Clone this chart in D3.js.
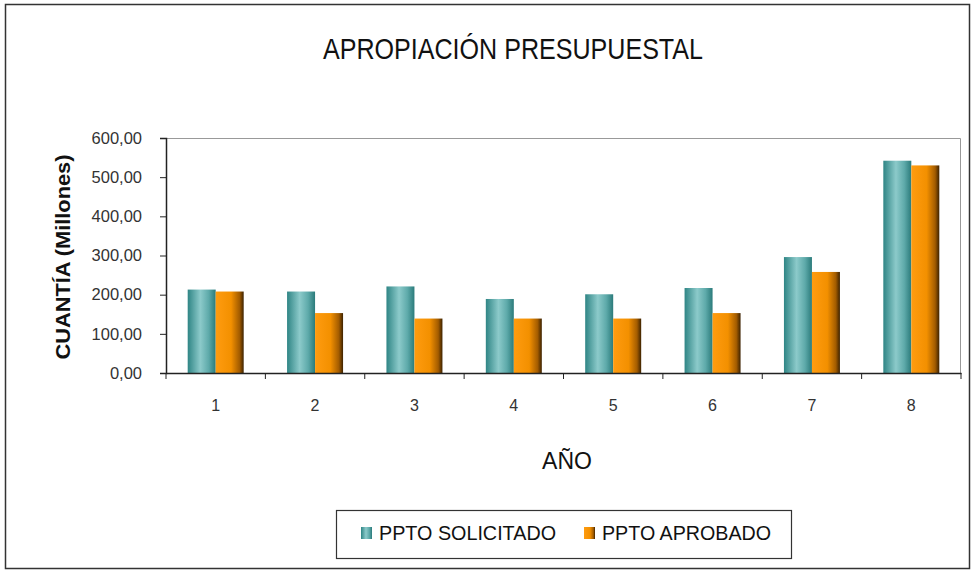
<!DOCTYPE html>
<html>
<head>
<meta charset="utf-8">
<script src="https://cdn.jsdelivr.net/npm/d3@7"></script>
<style>
  body { margin: 0; background: #fff; }
  svg text { font-family: "Liberation Sans", Arial, sans-serif; }
</style>
</head>
<body>
<svg id="chart" width="978" height="570"></svg>
<script>
const years = ['1', '2', '3', '4', '5', '6', '7', '8'];
const solicitado = [213, 208, 221, 189, 201, 217, 296, 542];
const aprobado = [208, 153, 139, 139, 139, 153, 258, 530];
const seriesNames = ['PPTO SOLICITADO', 'PPTO APROBADO'];
const yTicks = [0, 100, 200, 300, 400, 500, 600];

const svg = d3.select('#chart');
const margin = { top: 138, right: 17, bottom: 197, left: 166 };
const width = 978 - margin.left - margin.right;
const height = 570 - margin.top - margin.bottom;

// gradients for the cylinder-like bars
const defs = svg.append('defs');
function grad(id, stops) {
  const g = defs.append('linearGradient').attr('id', id)
    .attr('x1', '0%').attr('x2', '100%').attr('y1', '0%').attr('y2', '0%');
  stops.forEach(s => g.append('stop').attr('offset', s[0]).attr('stop-color', s[1]));
}
grad('gTeal', [['0%', '#2f8585'], ['45%', '#8ccaca'], ['75%', '#5eaaaa'], ['100%', '#2b7b7b']]);
grad('gOrange', [['0%', '#ff9c10'], ['55%', '#f39000'], ['85%', '#a35c00'], ['100%', '#3d2200']]);

// outer frame
svg.append('rect').attr('x', 5.5).attr('y', 4.5).attr('width', 964).attr('height', 564)
  .attr('fill', 'none').attr('stroke', '#333').attr('stroke-width', 1.5);

svg.append('text').attr('x', 513).attr('y', 59).attr('text-anchor', 'middle')
  .attr('font-size', 30).attr('textLength', 380).attr('lengthAdjust', 'spacingAndGlyphs')
  .attr('fill', '#111').text('APROPIACIÓN PRESUPUESTAL');

const g = svg.append('g').attr('transform', `translate(${margin.left},${margin.top})`);

const x0 = d3.scaleBand().domain(years).range([0, width]);
const x1 = d3.scaleBand().domain(seriesNames).range([0, x0.bandwidth()]).paddingOuter(0.775);
const y = d3.scaleLinear().domain([0, 600]).range([height, 0]);

// plot area border (light gray top/right)
g.append('path').attr('d', `M0,0.5H${width - 0.5}V${height}`)
  .attr('fill', 'none').attr('stroke', '#999').attr('stroke-width', 1);

const data = years.map((yr, i) => ({ yr, vals: [solicitado[i], aprobado[i]] }));
const fills = ['url(#gTeal)', 'url(#gOrange)'];

g.selectAll('g.grp').data(data).enter().append('g').attr('class', 'grp')
  .attr('transform', d => `translate(${x0(d.yr)},0)`)
  .selectAll('rect').data(d => d.vals.map((v, k) => ({ v, k })))
  .enter().append('rect')
  .attr('x', d => x1(seriesNames[d.k]))
  .attr('width', x1.bandwidth())
  .attr('y', d => y(d.v))
  .attr('height', d => height - y(d.v))
  .attr('fill', d => fills[d.k]);

// y axis
const yAxis = g.append('g').call(d3.axisLeft(y).tickValues(yTicks).tickSize(6).tickPadding(18)
  .tickFormat(d => d3.format('.2f')(d).replace('.', ',')));
yAxis.select('.domain').attr('stroke', '#222').attr('stroke-width', 1.5);
yAxis.selectAll('.tick line').attr('stroke', '#222');
yAxis.selectAll('text').attr('font-size', 16.5).attr('fill', '#333');

// x axis with ticks on category boundaries
const xAxis = g.append('g').attr('transform', `translate(0,${height})`)
  .call(d3.axisBottom(x0).tickSize(0).tickPadding(27));
xAxis.select('.domain').attr('stroke', '#222').attr('stroke-width', 1.5);
xAxis.selectAll('text').attr('font-size', 16).attr('fill', '#333');
xAxis.selectAll('line.bnd').data(years.map(yr => x0(yr)).concat([width]))
  .enter().append('line').attr('class', 'bnd')
  .attr('x1', d => d).attr('x2', d => d).attr('y1', 0).attr('y2', 6).attr('stroke', '#222');

// axis titles
svg.append('text').attr('x', 567).attr('y', 469).attr('text-anchor', 'middle')
  .attr('font-size', 23).attr('fill', '#111').text('AÑO');
svg.append('text').attr('transform', 'translate(70,257) rotate(-90)').attr('text-anchor', 'middle')
  .attr('font-size', 20).attr('font-weight', 'bold').attr('fill', '#111')
  .attr('textLength', 205).attr('lengthAdjust', 'spacingAndGlyphs').text('CUANTÍA (Millones)');

// legend
const leg = svg.append('g');
leg.append('rect').attr('x', 336.5).attr('y', 510.5).attr('width', 455).attr('height', 48)
  .attr('fill', '#fff').attr('stroke', '#333').attr('stroke-width', 1.2);
const legX = [361, 584];
const legW = [177, 169];
seriesNames.forEach((s, k) => {
  leg.append('rect').attr('x', legX[k]).attr('y', 527).attr('width', 11).attr('height', 12)
    .attr('fill', fills[k]);
  leg.append('text').attr('x', legX[k] + 18).attr('y', 540).attr('font-size', 21)
    .attr('textLength', legW[k]).attr('lengthAdjust', 'spacingAndGlyphs')
    .attr('fill', '#111').text(s);
});
</script>
</body>
</html>
